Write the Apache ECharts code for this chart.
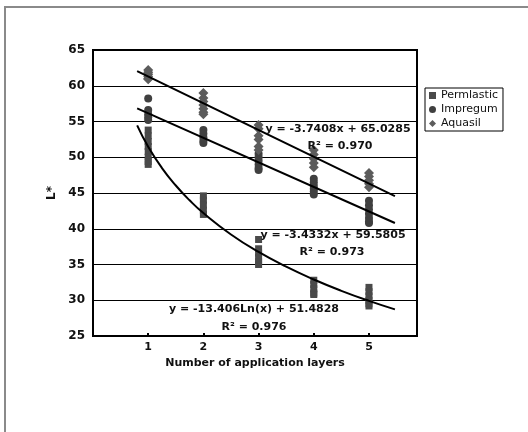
<!DOCTYPE html>
<html>
<head>
<meta charset="utf-8">
<script src="https://cdn.jsdelivr.net/npm/echarts@6/dist/echarts.min.js"></script>
<style>
  html, body { margin: 0; padding: 0; background: #fff; }
  #chart { width: 528px; height: 432px; }
</style>
</head>
<body>
<div id="chart"></div>
<script>
// readings per application layer (1..5)
const layers = [1, 2, 3, 4, 5];
const permlastic = [
  [53.8, 53.0, 52.2, 51.5, 50.8, 50.0, 49.4, 49.0],
  [44.6, 44.0, 43.3, 42.6, 42.0],
  [38.5, 37.2, 36.6, 36.0, 35.4, 35.0],
  [32.8, 32.2, 31.6, 31.0, 30.8],
  [31.8, 31.2, 30.6, 30.0, 29.5, 29.2]
];
const impregum = [
  [58.2, 56.6, 56.0, 55.6, 55.2],
  [53.8, 53.3, 52.8, 52.3, 52.0],
  [50.5, 50.0, 49.5, 49.0, 48.5, 48.2],
  [47.0, 46.5, 46.0, 45.6, 45.2, 44.8],
  [43.9, 43.3, 42.7, 42.1, 41.5, 41.0, 40.8]
];
const aquasil = [
  [62.2, 61.9, 61.6, 61.3, 61.0, 60.9],
  [59.0, 58.3, 57.8, 57.3, 56.8, 56.3, 56.0],
  [54.5, 54.0, 53.0, 52.5, 51.5, 51.0],
  [51.0, 50.4, 49.8, 49.2, 48.6],
  [47.8, 47.3, 46.8, 46.3, 45.8]
];

// trend lines as drawn (Excel fits)
const aquasilTrend = [[0.8, 62.04], [5.47, 44.57]];
const impregumTrend = [[0.8, 56.83], [5.47, 40.80]];
const permTrendX = [0.8, 1.0, 1.25, 1.5, 1.75, 2.0, 2.5, 3.0, 3.5, 4.0, 4.5, 5.0, 5.47];
const permTrendY = [54.47, 51.48, 48.49, 46.05, 43.98, 42.19, 39.20, 36.75, 34.69, 32.90, 31.32, 29.91, 28.72];

const yTicks = [25, 65, 5];

function toPoints(groups) {
  const pts = [];
  groups.forEach((vals, i) => vals.forEach(v => pts.push([layers[i], v])));
  return pts;
}

const font = 'DejaVu Sans';
const chart = echarts.init(document.getElementById('chart'), null, { renderer: 'canvas' });

const eqText = (x, y, text) => ({
  type: 'text', x: x, y: y, z: 100,
  style: { text: text, fill: '#111', font: 'bold 11px "DejaVu Sans"', align: 'center', verticalAlign: 'middle' }
});

const option = {
  backgroundColor: '#ffffff',
  animation: false,
  grid: { left: 93, top: 50, right: 111, bottom: 96, show: true, borderColor: '#000', borderWidth: 2, backgroundColor: '#fff' },
  legend: {
    data: ['Permlastic', 'Impregum', 'Aquasil'],
    orient: 'vertical', left: 425, top: 88,
    borderColor: '#000', borderWidth: 1, padding: [2, 5, 2, 4], itemGap: 3,
    itemWidth: 7, itemHeight: 7,
    textStyle: { fontFamily: font, fontSize: 11, color: '#111' }
  },
  xAxis: {
    type: 'value', min: 0, max: 5.87, interval: 1,
    name: 'Number of application layers', nameLocation: 'middle', nameGap: 21,
    nameTextStyle: { fontFamily: font, fontSize: 11, fontWeight: 'bold', color: '#111' },
    axisLine: { show: true, lineStyle: { color: '#000', width: 2 } },
    axisTick: { show: true, inside: true, length: 3, lineStyle: { color: '#000', width: 2 } },
    axisLabel: {
      fontFamily: font, fontSize: 11, fontWeight: 'bold', color: '#111', margin: 6,
      showMaxLabel: false,
      formatter: v => (v >= 1 && v <= 5 && Number.isInteger(v)) ? String(v) : ''
    },
    splitLine: { show: false }
  },
  yAxis: {
    type: 'value', min: yTicks[0], max: yTicks[1], interval: yTicks[2],
    name: 'L*', nameLocation: 'middle', nameGap: 35, nameRotate: 90,
    nameTextStyle: { fontFamily: font, fontSize: 12, fontWeight: 'bold', color: '#111' },
    axisLine: { show: true, lineStyle: { color: '#000', width: 2 } },
    axisTick: { show: false },
    axisLabel: { fontFamily: font, fontSize: 12, fontWeight: 'bold', color: '#111', margin: 8 },
    splitLine: { show: true, lineStyle: { color: '#000', width: 1 } }
  },
  series: [
    {
      name: 'Permlastic', type: 'scatter', symbol: 'rect', symbolSize: [7, 7],
      itemStyle: { color: '#4a4a4a', opacity: 1 }, data: toPoints(permlastic), z: 3
    },
    {
      name: 'Impregum', type: 'scatter', symbol: 'circle', symbolSize: 8,
      itemStyle: { color: '#404040', opacity: 1 }, data: toPoints(impregum), z: 3
    },
    {
      name: 'Aquasil', type: 'scatter', symbol: 'diamond', symbolSize: 10,
      itemStyle: { color: '#5c5c5c', opacity: 1 }, data: toPoints(aquasil), z: 3
    },
    {
      name: 'Aquasil trend', type: 'line', data: aquasilTrend, symbol: 'none', z: 5,
      lineStyle: { color: '#000', width: 2 }
    },
    {
      name: 'Impregum trend', type: 'line', data: impregumTrend, symbol: 'none', z: 5,
      lineStyle: { color: '#000', width: 2 }
    },
    {
      name: 'Permlastic trend', type: 'line', smooth: true, symbol: 'none', z: 5,
      data: permTrendX.map((x, i) => [x, permTrendY[i]]),
      lineStyle: { color: '#000', width: 2 }
    }
  ],
  graphic: [
    {
      type: 'rect', z: -10, silent: true,
      shape: { x: 5, y: 7, width: 600, height: 600 },
      style: { fill: 'none', stroke: '#8a8a8a', lineWidth: 2 }
    },
    eqText(338, 129, 'y = -3.7408x + 65.0285'),
    eqText(340, 146, 'R² = 0.970'),
    eqText(333, 235, 'y = -3.4332x + 59.5805'),
    eqText(332, 252, 'R² = 0.973'),
    eqText(254, 309, 'y = -13.406Ln(x) + 51.4828'),
    eqText(254, 327, 'R² = 0.976')
  ]
};

chart.setOption(option);
</script>
</body>
</html>
